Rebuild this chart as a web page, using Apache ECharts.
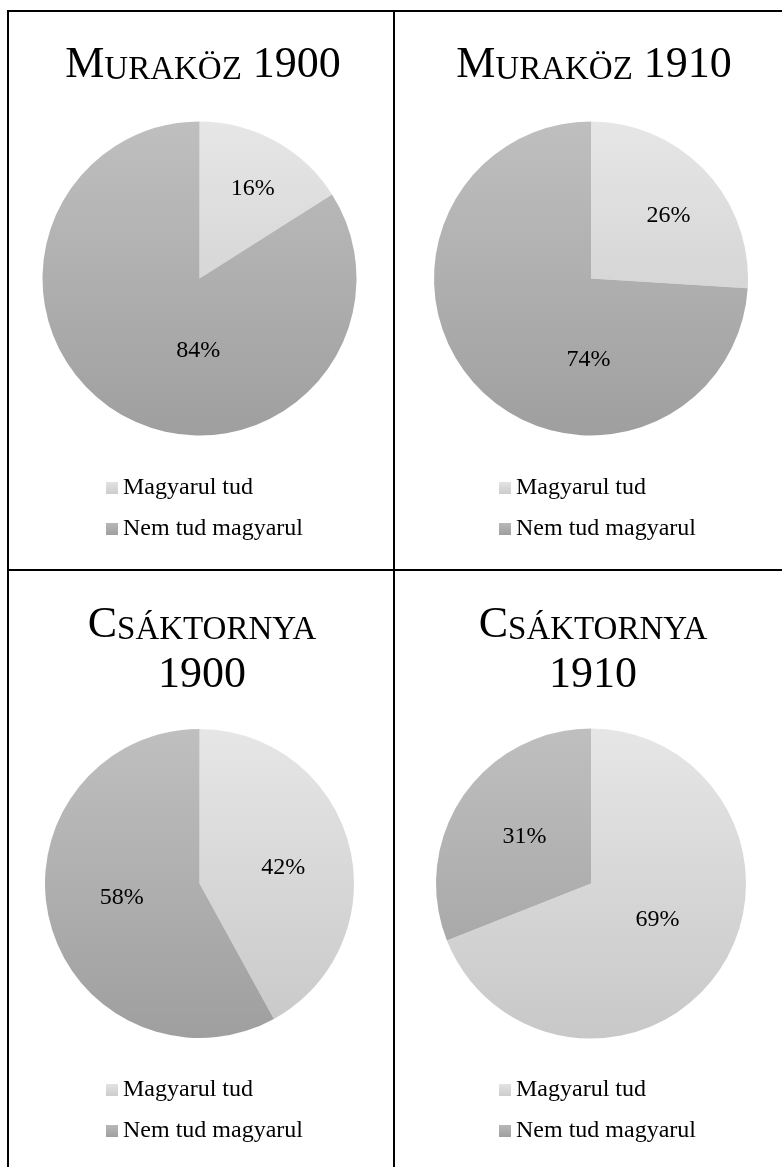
<!DOCTYPE html>
<html>
<head>
<meta charset="utf-8">
<style>html,body{margin:0;padding:0;background:#fff;}#c{width:782px;height:1167px;}</style>
<script src="https://cdn.jsdelivr.net/npm/echarts@6/dist/echarts.min.js"></script>
</head>
<body>
<div id="c"></div>
<script>
// ---- data ----
const categories = ['Magyarul tud', 'Nem tud magyarul'];
const muraköz1900 = [16, 84];
const muraköz1910 = [26, 74];
const csaktornya1900 = [42, 58];
const csaktornya1910 = [69, 31];
const titleFirst = ['M', 'M', 'C', 'C'];
const titleRest = ['URAKÖZ', 'URAKÖZ', 'SÁKTORNYA', 'SÁKTORNYA'];
const titleYear = ['1900', '1910', '1900', '1910'];

// ---- layout / style ----
const FONT = 'Liberation Serif';
const panels = [
  { values: muraköz1900,   cx: 199.5, cy: 278.5, r: 157, titleX: 203, titleTop: 37,  twoLine: false, legendX: 106, legendTop: 476,  off: [[14, -18], [38, 1]] },
  { values: muraköz1910,   cx: 591,   cy: 278.5, r: 157, titleX: 594, titleTop: 37,  twoLine: false, legendX: 499, legendTop: 476,  off: [[18, -7], [57, 25]] },
  { values: csaktornya1900, cx: 199.5, cy: 883.5, r: 154.5, titleX: 202, titleTop: 597, twoLine: true, legendX: 106, legendTop: 1078, off: [[6, 4], [0, -6]] },
  { values: csaktornya1910, cx: 591,   cy: 883.5, r: 155, titleX: 593, titleTop: 597, twoLine: true, legendX: 499, legendTop: 1078, off: [[0, -9], [0, -2]] }
];
const lightStops = ['#e6e6e6', '#c8c8c8'];
const darkStops = ['#bfbfbf', '#9f9f9f'];

function globalGrad(p, stops) {
  return { type: 'linear', x: 0, y: p.cy - p.r, x2: 0, y2: p.cy + p.r, global: true,
    colorStops: [{ offset: 0, color: stops[0] }, { offset: 1, color: stops[1] }] };
}
function localGrad(a, b) {
  return { type: 'linear', x: 0, y: 0, x2: 0, y2: 1,
    colorStops: [{ offset: 0, color: a }, { offset: 1, color: b }] };
}

const rich = {
  b: { fontFamily: FONT, fontSize: 44, fontWeight: 'normal', color: '#000', lineHeight: 50, verticalAlign: 'bottom' },
  s: { fontFamily: FONT, fontSize: 33, fontWeight: 'normal', color: '#000', lineHeight: 43, verticalAlign: 'bottom' }
};

const titles = panels.map((p, i) => ({
  text: p.twoLine
    ? '{b|' + titleFirst[i] + '}{s|' + titleRest[i] + '}\n{b|' + titleYear[i] + '}'
    : '{b|' + titleFirst[i] + '}{s|' + titleRest[i] + '}{b| ' + titleYear[i] + '}',
  left: p.titleX, top: p.titleTop, textAlign: 'center', padding: 0,
  textStyle: { rich: rich, fontFamily: FONT, fontSize: 44, fontWeight: 'normal', color: '#000', lineHeight: 50 }
}));

const legends = panels.map(p => ({
  orient: 'vertical', left: p.legendX, top: p.legendTop, padding: 0,
  itemWidth: 12, itemHeight: 12, itemGap: 17, icon: 'rect', selectedMode: false,
  textStyle: { fontFamily: FONT, fontSize: 24, color: '#000', lineHeight: 24 },
  data: [
    { name: categories[0], itemStyle: { color: localGrad('#e3e3e3', '#cccccc') } },
    { name: categories[1], itemStyle: { color: localGrad('#b8b8b8', '#9f9f9f') } }
  ]
}));

const series = panels.map(p => ({
  type: 'pie', center: [p.cx, p.cy], radius: [0, p.r], startAngle: 90, clockwise: true,
  avoidLabelOverlap: false, silent: true, animation: false,
  label: { show: true, position: 'inside', formatter: '{c}%', fontFamily: FONT, fontSize: 24, color: '#000' },
  labelLine: { show: false },
  labelLayout: function (params) { return { dx: p.off[params.dataIndex][0], dy: p.off[params.dataIndex][1] }; },
  itemStyle: { borderWidth: 0 },
  data: p.values.map((v, k) => ({ name: categories[k], value: v,
    itemStyle: { color: globalGrad(p, k === 0 ? lightStops : darkStops) } }))
}));

const lineStyle = { stroke: '#000', lineWidth: 2 };
const graphic = [
  { type: 'line', shape: { x1: 7, y1: 11, x2: 782, y2: 11 }, style: lineStyle, silent: true },
  { type: 'line', shape: { x1: 8, y1: 10, x2: 8, y2: 1167 }, style: lineStyle, silent: true },
  { type: 'line', shape: { x1: 394, y1: 10, x2: 394, y2: 1167 }, style: lineStyle, silent: true },
  { type: 'line', shape: { x1: 7, y1: 570, x2: 782, y2: 570 }, style: lineStyle, silent: true }
];

const chart = echarts.init(document.getElementById('c'), null, { renderer: 'canvas' });
chart.setOption({
  backgroundColor: '#fff',
  animation: false,
  title: titles,
  legend: legends,
  series: series,
  graphic: graphic
});
</script>
</body>
</html>
